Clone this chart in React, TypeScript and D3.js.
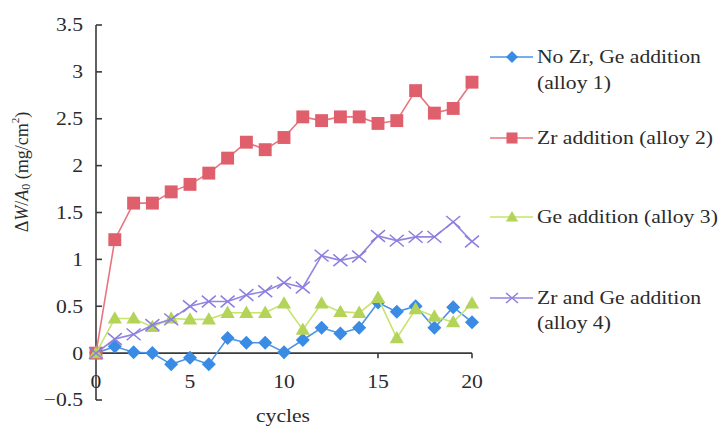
import React from 'react';
import * as d3 from 'd3';

const cycles = [0, 1, 2, 3, 4, 5, 6, 7, 8, 9, 10, 11, 12, 13, 14, 15, 16, 17, 18, 19, 20];
const alloy1 = [0, 0.07, 0.01, 0.0, -0.12, -0.05, -0.12, 0.16, 0.11, 0.11, 0.01, 0.14, 0.27, 0.21, 0.27, 0.54, 0.44, 0.5, 0.27, 0.49, 0.33];
const alloy2 = [0, 1.21, 1.6, 1.6, 1.72, 1.8, 1.92, 2.08, 2.25, 2.17, 2.3, 2.52, 2.48, 2.52, 2.52, 2.45, 2.48, 2.8, 2.56, 2.61, 2.89];
const alloy3 = [0, 0.37, 0.37, 0.28, 0.37, 0.36, 0.36, 0.43, 0.43, 0.43, 0.53, 0.25, 0.53, 0.44, 0.43, 0.59, 0.16, 0.47, 0.39, 0.33, 0.53];
const alloy4 = [0, 0.15, 0.2, 0.3, 0.36, 0.5, 0.55, 0.55, 0.62, 0.66, 0.75, 0.7, 1.04, 0.99, 1.03, 1.25, 1.2, 1.24, 1.24, 1.4, 1.19];
const yTicks = [-0.5, 0, 0.5, 1, 1.5, 2, 2.5, 3, 3.5];
const yTickLabels = ['\u22120.5', '0', '0.5', '1', '1.5', '2', '2.5', '3', '3.5'];
const xTicks = [0, 5, 10, 15, 20];
const xTickLabels = ['0', '5', '10', '15', '20'];
const legendLabels = [
  ['No Zr, Ge addition', '(alloy 1)'],
  ['Zr addition (alloy 2)'],
  ['Ge addition (alloy 3)'],
  ['Zr and Ge addition', '(alloy 4)'],
];

const FONT = '"Liberation Serif", "Times New Roman", serif';
const TEXT = '#2b2b2b';

type Style = { line: string; fill: string; marker: 'diamond' | 'square' | 'triangle' | 'x' };
const styles: Style[] = [
  { line: '#4a95e6', fill: '#3a8be4', marker: 'diamond' },
  { line: '#e8757e', fill: '#df5f6c', marker: 'square' },
  { line: '#c8e36e', fill: '#b3d459', marker: 'triangle' },
  { line: '#9485de', fill: '#8a7fe0', marker: 'x' },
];

function Marker({ kind, x, y, s, color }: { kind: string; x: number; y: number; s: number; color: string }) {
  if (kind === 'diamond') {
    const p = d3.symbol(d3.symbolSquare, s * s * 0.5)();
    return <path d={p || ''} transform={`translate(${x},${y}) rotate(45)`} fill={color} />;
  }
  if (kind === 'square') {
    const p = d3.symbol(d3.symbolSquare, s * s * 0.85)();
    return <path d={p || ''} transform={`translate(${x},${y})`} fill={color} />;
  }
  if (kind === 'triangle') {
    const p = d3.symbol(d3.symbolTriangle, s * s * 0.45)();
    return <path d={p || ''} transform={`translate(${x},${y + 1})`} fill={color} />;
  }
  const h = s / 2;
  const v = s * 0.42;
  return (
    <path
      d={`M${x - h},${y - v}L${x + h},${y + v}M${x - h},${y + v}L${x + h},${y - v}`}
      stroke={color}
      strokeWidth={1.5}
      fill="none"
    />
  );
}

function SText({ x, y, anchor, children, size = 18.5, sx = 1.17 }: any) {
  return (
    <text
      transform={`translate(${x},${y}) scale(${sx},1)`}
      textAnchor={anchor}
      dominantBaseline="central"
      fontSize={size}
      fontFamily={FONT}
      fill={TEXT}
    >
      {children}
    </text>
  );
}

export default function App() {
  const x = d3.scaleLinear().domain([0, 20]).range([96, 472]);
  const y = d3.scaleLinear().domain([-0.5, 3.5]).range([400, 25]);
  const series = [alloy1, alloy2, alloy3, alloy4];
  const line = d3
    .line<number>()
    .x((_, i) => x(cycles[i]))
    .y((d) => y(d));

  const legendY = [
    [57, 83],
    [138],
    [217],
    [298, 323],
  ];

  return (
    <svg width={720} height={426} style={{ position: 'absolute', left: 0, top: 0, background: '#fff' }}>
      <rect width={720} height={426} fill="#fff" />
      {/* axes */}
      <g stroke="#3a3a3a" strokeWidth={1.6} fill="none">
        <line x1={x(0)} x2={x(0)} y1={y(3.5)} y2={y(-0.5)} />
        {yTicks.map((t) => (
          <line key={t} x1={x(0)} x2={x(0) + 6} y1={y(t)} y2={y(t)} />
        ))}
        <line x1={x(0)} x2={x(20)} y1={y(0)} y2={y(0)} />
        {xTicks.map((t) => (
          <line key={t} x1={x(t)} x2={x(t)} y1={y(0)} y2={y(0) + 5} />
        ))}
      </g>
      {yTicks.map((t, i) => (
        <SText key={t} x={x(0) - 13} y={y(t)} anchor="end">
          {yTickLabels[i]}
        </SText>
      ))}
      {xTicks.map((t, i) => (
        <SText key={t} x={x(t)} y={y(0) + 28} anchor="middle">
          {xTickLabels[i]}
        </SText>
      ))}
      <SText x={283} y={416} anchor="middle">
        cycles
      </SText>
      <text
        transform="translate(22,172) rotate(-90)"
        textAnchor="middle"
        dominantBaseline="central"
        fontSize={18}
        fontFamily={FONT}
        fill={TEXT}
      >
        {'\u0394'}
        <tspan fontStyle="italic">W</tspan>/<tspan fontStyle="italic">A</tspan>
        <tspan fontSize={12} dy={4}>0</tspan>
        <tspan dy={-4}> (mg/cm</tspan>
        <tspan fontSize={11} dy={-7}>2</tspan>
        <tspan dy={7}>)</tspan>
      </text>
      {/* series */}
      {series.map((s, si) => (
        <g key={si}>
          <path d={line(s) || ''} fill="none" stroke={styles[si].line} strokeWidth={1.6} />
          {s.map((v, i) => (
            <Marker key={i} kind={styles[si].marker} x={x(cycles[i])} y={y(v)} s={14} color={styles[si].fill} />
          ))}
        </g>
      ))}
      {/* legend */}
      {legendLabels.map((lines, li) => (
        <g key={li}>
          <line x1={490} x2={533} y1={legendY[li][0]} y2={legendY[li][0]} stroke={styles[li].line} strokeWidth={1.6} />
          <Marker kind={styles[li].marker} x={512} y={legendY[li][0]} s={12} color={styles[li].fill} />
          {lines.map((t, k) => (
            <SText key={k} x={537} y={legendY[li][k]} anchor="start">
              {t}
            </SText>
          ))}
        </g>
      ))}
    </svg>
  );
}
